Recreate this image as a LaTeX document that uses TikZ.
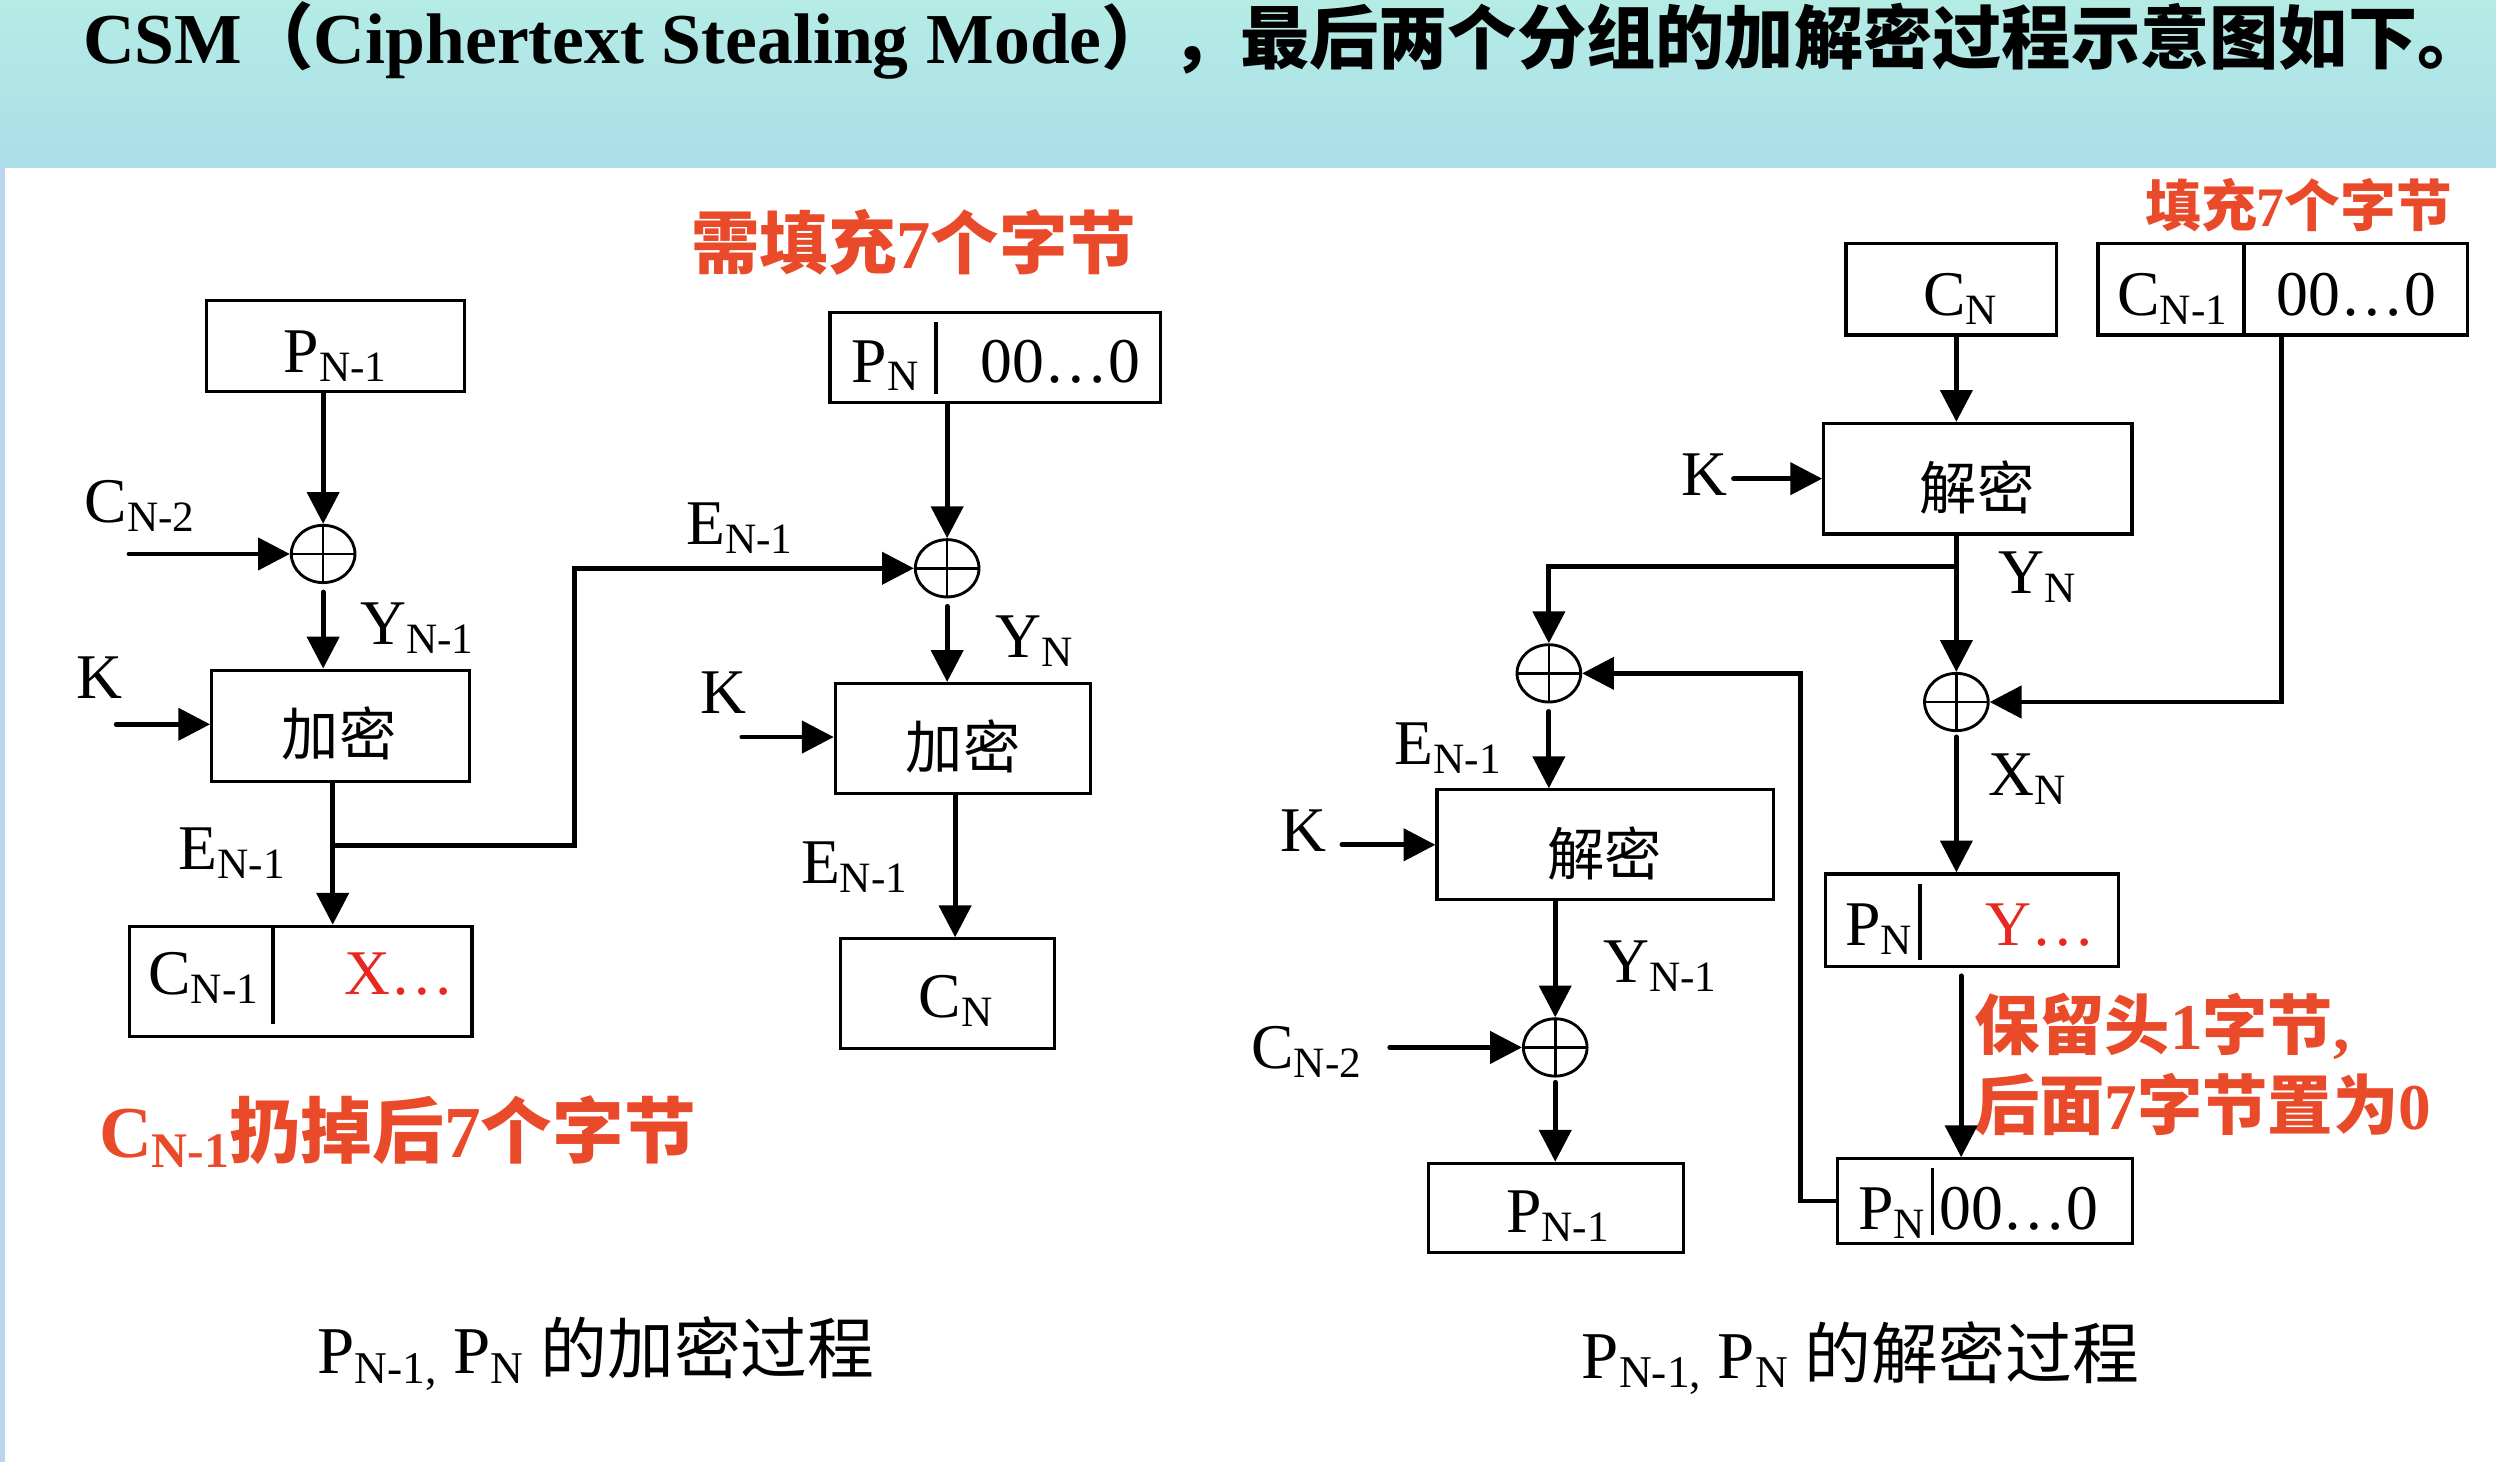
\documentclass[tikz,border=0pt]{standalone}
\usepackage{fontspec}
\setmainfont{Liberation Serif}
\newfontfamily\cjk{Noto Sans CJK SC}
\usepackage{graphicx}
\usetikzlibrary{arrows.meta,shapes.geometric,calc}
\definecolor{bandtop}{RGB}{180,236,228}
\definecolor{bandbot}{RGB}{172,221,234}
\definecolor{edgeblue}{RGB}{184,214,240}
\definecolor{notered}{RGB}{233,74,42}
\definecolor{bytered}{RGB}{230,40,32}
\def\subtxt#1{\raisebox{-0.14em}{\scalebox{0.68}{#1}}}

\tikzset{
	blk/.style={draw, line width=2pt, inner sep=0pt},
	divider/.style={line width=2.2pt},
	xor/.style={ellipse, draw, line width=1.8pt, minimum width=40pt, minimum height=36pt, inner sep=0pt,
		path picture={\draw[line width=1.6pt] (path picture bounding box.north) -- (path picture bounding box.south)
			(path picture bounding box.west) -- (path picture bounding box.east);}},
	wire/.style={line width=3pt},
	arr/.style={line width=3pt, line cap=round, -{Triangle[length=20pt,width=20pt]}},
	lbl/.style={font={\fontsize{40}{48}\selectfont}, inner sep=0pt, anchor=base west},
	cjkt/.style={font={\cjk\fontsize{36}{44}\selectfont}, inner sep=0pt},
	redtxt/.style={text=notered, inner sep=0pt},
	captxt/.style={font={\fontsize{42}{50}\selectfont}, inner sep=0pt, anchor=base west},
	headtxt/.style={font={\bfseries\fontsize{45}{53}\selectfont}, inner sep=0pt, anchor=base west}
}

\begin{document}
\begin{tikzpicture}[x=1pt,y=-1pt]
		%%%%% START %%%%%
		\useasboundingbox (0,0) rectangle (1568,918.4);
		\shade[top color=bandtop, bottom color=bandbot] (0,0) rectangle (1568,105);
		\fill[edgeblue] (0,105) rectangle (3,918.4);
		\node[headtxt] (head) at (52,40) {CSM{\cjk （}Ciphertext Stealing Mode{\cjk\fontsize{43.5}{52}\selectfont ），最后两个分组的加解密过程示意图如下。}};
		
		% encryption
		\node[blk, minimum width=162pt, minimum height=57pt] (pa) at (210.7,217.5) {};
		\node[lbl] (pat) at (178,234) {P\subtxt{N-1}};
		\node[xor] (x1) at (203,348) {};
		\node[lbl] (cn2a) at (53,328) {C\subtxt{N-2}};
		\coordinate (cn2s) at (81,348);
		\node[lbl] (yn1a) at (226,405) {Y\subtxt{N-1}};
		\node[lbl] (ka) at (48,439) {K};
		\coordinate (kas) at (73,455);
		\node[blk, minimum width=162pt, minimum height=70pt] (ea) at (214,456) {};
		\node[cjkt] (eat) at (213,461) {加密};
		\coordinate (j1) at (209,531);
		\coordinate (b2) at (361,357);
		\node[lbl] (ena) at (112,546) {E\subtxt{N-1}};
		\node[lbl] (enb) at (431,342) {E\subtxt{N-1}};
		\node[blk, minimum width=215pt, minimum height=69pt] (ca) at (189,616.4) {};
		\draw[divider] (171.6,582) -- (171.6,643);
		\node[lbl] (cat) at (93,625) {C\subtxt{N-1}};
		\node[lbl, text=bytered] (cax) at (216,625) {X…};
		
		\node[blk, minimum width=207.6pt, minimum height=56.6pt] (pb) at (625.2,224.7) {};
		\draw[divider] (588,202) -- (588,247.4);
		\node[lbl] (pbt) at (535,240) {P\subtxt{N}};
		\node[lbl] (pbz) at (616,240) {00…0};
		\node[xor] (x2) at (595,357) {};
		\node[lbl] (yna) at (625,413) {Y\subtxt{N}};
		\node[lbl] (kb) at (440,448) {K};
		\coordinate (kbs) at (466,463);
		\node[blk, minimum width=160pt, minimum height=69pt] (eb) at (604.8,463.9) {};
		\node[cjkt] (ebt) at (605,469) {加密};
		\coordinate (e3) at (600,531);
		\node[lbl] (enc) at (503,555) {E\subtxt{N-1}};
		\node[blk, minimum width=134.5pt, minimum height=69pt] (cb) at (595,624.3) {};
		\node[lbl] (cbt) at (577,639) {C\subtxt{N}};
		
		\node[redtxt, font={\cjk\bfseries\fontsize{43}{50}\selectfont}] (fill1) at (574,152) {需填充{\rmfamily 7}个字节};
		\node[redtxt, anchor=base west, font={\bfseries\fontsize{46}{54}\selectfont}] (drop) at (62,727)
			{C\subtxt{N-1}{\cjk\fontsize{45}{54}\selectfont 扔掉后}7{\cjk\fontsize{45}{54}\selectfont 个字节}};
		\node[captxt] (capa) at (199.4,863) {P\subtxt{N-1,} P\subtxt{N} {\cjk 的加密过程}};
		
		\draw[arr] (pa.south -| x1) -- (x1.north);
		\draw[arr] (cn2s) -- (x1.west);
		\draw[arr, shorten <=5pt] (x1.south) -- (ea.north -| x1);
		\draw[arr] (kas) -- (kas -| ea.west);
		\draw[wire] (ea.south -| j1) -- (j1);
		\draw[arr] (j1) -- (ca.north -| j1);
		\draw[arr] (j1) -| (b2) -- (x2.west);
		\draw[arr] (pb.south -| x2) -- (x2.north);
		\draw[arr, shorten <=5pt] (x2.south) -- (eb.north -| x2);
		\draw[arr] (kbs) -- (kbs -| eb.west);
		\draw[arr] (eb.south -| e3) -- (cb.north -| e3);
		
		% decryption
		\node[redtxt, font={\cjk\bfseries\fontsize{35}{42}\selectfont}] (fill2) at (1444,129) {填充{\rmfamily 7}个字节};
		\node[blk, minimum width=132pt, minimum height=57.6pt] (cc) at (1225.7,181.6) {};
		\node[lbl] (cct) at (1208,198) {C\subtxt{N}};
		\node[blk, minimum width=232pt, minimum height=57.6pt] (cd) at (1434,181.6) {};
		\draw[divider] (1409.6,152.8) -- (1409.6,210.4);
		\node[lbl] (cdt) at (1330,198) {C\subtxt{N-1}};
		\node[lbl] (cdz) at (1430,198) {00…0};
		\node[blk, minimum width=193.6pt, minimum height=69.4pt] (da) at (1242.5,300.7) {};
		\node[cjkt] (dat) at (1242,306) {解密};
		\node[lbl] (kc) at (1056,311) {K};
		\coordinate (kcs) at (1089,300.7);
		\node[lbl] (ynb) at (1255,373) {Y\subtxt{N}};
		\coordinate (j2) at (1229,356);
		\node[xor] (xa) at (973,423) {};
		\node[xor] (xb) at (1229,441) {};
		\coordinate (t1) at (1433,441);
		\node[lbl] (xnb) at (1249,500) {X\subtxt{N}};
		\node[blk, minimum width=184pt, minimum height=58pt] (pc) at (1239,578) {};
		\draw[divider] (1206,555.6) -- (1206,603);
		\node[lbl] (pct) at (1159,594) {P\subtxt{N}};
		\node[lbl, text=bytered] (pcy) at (1247,594) {Y…};
		\coordinate (t4) at (1232,660);
		\node[redtxt, anchor=west, font={\cjk\bfseries\fontsize{41}{49}\selectfont}] (keep1) at (1240,645) {保留头{\rmfamily 1}字节{\rmfamily ,}};
		\node[redtxt, anchor=west, font={\cjk\bfseries\fontsize{41}{49}\selectfont}] (keep2) at (1240,694) {后面{\rmfamily 7}字节置为{\rmfamily 0}};
		\node[blk, minimum width=185pt, minimum height=53pt] (pd) at (1247,754.5) {};
		\draw[divider] (1214,733.7) -- (1214,775.6);
		\node[lbl] (pdt) at (1167,772.6) {P\subtxt{N}};
		\node[lbl] (pdz) at (1218,772.6) {00…0};
		\coordinate (t3) at (1131,423);
		\node[lbl] (end) at (876,480) {E\subtxt{N-1}};
		\node[lbl] (kd) at (804,535) {K};
		\coordinate (kds) at (843,530.7);
		\node[blk, minimum width=211.5pt, minimum height=69pt] (db) at (1008.5,530.7) {};
		\node[cjkt] (dbt) at (1008,536) {解密};
		\node[lbl] (ync) at (1007,617) {Y\subtxt{N-1}};
		\node[xor] (xc) at (977,658) {};
		\node[lbl] (cn2b) at (786,671) {C\subtxt{N-2}};
		\coordinate (cn2t) at (873,658);
		\node[blk, minimum width=160pt, minimum height=56pt] (pe) at (977.5,758.8) {};
		\node[lbl] (pet) at (946,774) {P\subtxt{N-1}};
		\node[captxt] (capb) at (993.6,866) {P\subtxt{N-1,} P\subtxt{N} {\cjk 的解密过程}};
		
		\draw[arr] (cc.south -| j2) -- (da.north -| j2);
		\draw[arr] (kcs) -- (da.west);
		\draw[wire] (da.south -| j2) -- (j2);
		\draw[arr] (j2) -- (xb.north);
		\draw[arr] (j2) -| (xa.north);
		\draw[arr] (cd.south -| t1) -- (t1) -- (xb.east);
		\draw[arr, shorten <=3pt] (xb.south) -- (pc.north -| xb);
		\draw[arr, shorten <=5pt] (pc.south -| t4) -- (pd.north -| t4);
		\draw[arr] (pd.west) -| (t3) -- (xa.east);
		\draw[arr, shorten <=5pt] (xa.south) -- (db.north -| xa);
		\draw[arr] (kds) -- (db.west);
		\draw[arr] (db.south -| xc) -- (xc.north);
		\draw[arr] (cn2t) -- (xc.west);
		\draw[arr, shorten <=3pt] (xc.south) -- (pe.north -| xc);
		%%%%% END %%%%%
\end{tikzpicture}
\end{document}
